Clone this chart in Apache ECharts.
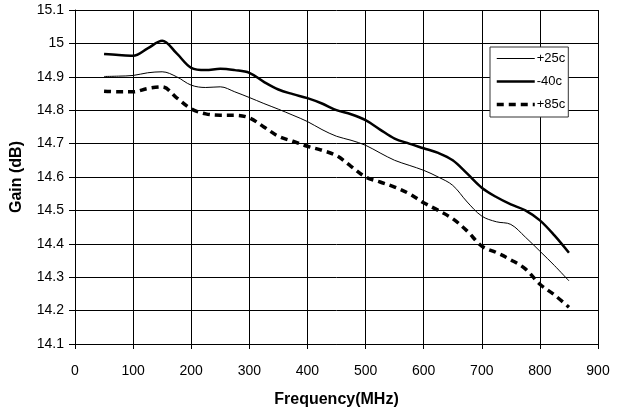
<!DOCTYPE html>
<html>
<head>
<meta charset="utf-8">
<script src="https://cdn.jsdelivr.net/npm/echarts@6/dist/echarts.min.js"></script>
<style>
html,body{margin:0;padding:0;background:#fff;}
#c{width:622px;height:411px;}
</style>
</head>
<body>
<div id="c"></div>
<script>
var freq = [50,75,100,125,150,175,200,225,250,275,300,325,350,375,400,425,450,475,500,525,550,575,600,625,650,675,700,725,750,775,800,825,850];
var gain25 = [14.901,14.902,14.904,14.912,14.915,14.900,14.875,14.868,14.870,14.855,14.838,14.820,14.803,14.785,14.766,14.742,14.722,14.710,14.695,14.672,14.650,14.635,14.620,14.600,14.575,14.525,14.483,14.466,14.458,14.420,14.378,14.335,14.289];
var gainM40 = [14.968,14.965,14.963,14.985,15.008,14.970,14.927,14.920,14.924,14.920,14.912,14.885,14.862,14.848,14.836,14.820,14.800,14.788,14.770,14.742,14.715,14.700,14.686,14.672,14.650,14.610,14.568,14.540,14.518,14.500,14.470,14.425,14.373];
var gain85 = [14.857,14.855,14.855,14.865,14.870,14.837,14.804,14.789,14.785,14.785,14.777,14.750,14.722,14.707,14.692,14.680,14.664,14.632,14.600,14.585,14.570,14.550,14.523,14.500,14.475,14.438,14.393,14.374,14.352,14.325,14.279,14.247,14.210];
var seriesNames = ['+25c','-40c','+85c'];

function pairs(ys){ return freq.map(function(f,i){ return [f, ys[i]]; }); }

var styles = [
  {color:'#000', width:1, type:'solid'},
  {color:'#000', width:2.5, type:'solid'},
  {color:'#000', width:3.5, type:[7,5]}
];

var chart = echarts.init(document.getElementById('c'), null, {renderer:'canvas'});
var font = 'Arial, "Liberation Sans", sans-serif';
chart.setOption({
  animation:false,
  backgroundColor:'#fff',
  grid:{left:75, right:24, top:10, bottom:67, containLabel:false, outerBoundsMode:'none'},
  xAxis:{
    type:'value', min:0, max:900, interval:100,
    name:'Frequency(MHz)', nameLocation:'middle', nameGap:48,
    nameTextStyle:{fontFamily:font, fontSize:16, fontWeight:'bold', color:'#000'},
    axisLine:{show:true, lineStyle:{color:'#000', width:1}},
    axisTick:{show:true, inside:false, length:5, lineStyle:{color:'#000'}},
    axisLabel:{fontFamily:font, fontSize:14, color:'#000', margin:20},
    splitLine:{show:true, lineStyle:{color:'#000', width:1}}
  },
  yAxis:{
    type:'value', min:14.1, max:15.1, interval:0.1,
    name:'Gain (dB)', nameLocation:'middle', nameGap:50, nameRotate:90,
    nameTextStyle:{fontFamily:font, fontSize:16, fontWeight:'bold', color:'#000'},
    axisLine:{show:true, lineStyle:{color:'#000', width:1}},
    axisTick:{show:true, inside:false, length:6, lineStyle:{color:'#000'}},
    axisLabel:{fontFamily:font, fontSize:14, color:'#000', margin:11,
      formatter:function(v){ return String(Math.round(v*10)/10); }},
    splitLine:{show:true, lineStyle:{color:'#000', width:1}}
  },
  legend:{
    show:true, orient:'vertical', left:490, top:47,
    data:seriesNames.map(function(n,i){ return {name:n, lineStyle:styles[i]}; }),
    itemWidth:38, itemHeight:14, itemGap:10,
    padding:[5,3,6,5],
    itemStyle:{opacity:0},
    backgroundColor:'#fff', borderColor:'#333', borderWidth:1,
    textStyle:{fontFamily:font, fontSize:13, color:'#000', padding:[0,0,0,-3]}
  },
  series:seriesNames.map(function(n,i){
    return {name:n, type:'line', data:pairs([gain25,gainM40,gain85][i]), symbol:'none', smooth:0.35,
      lineStyle:styles[i], itemStyle:{color:'#000'}};
  })
});
</script>
</body>
</html>
